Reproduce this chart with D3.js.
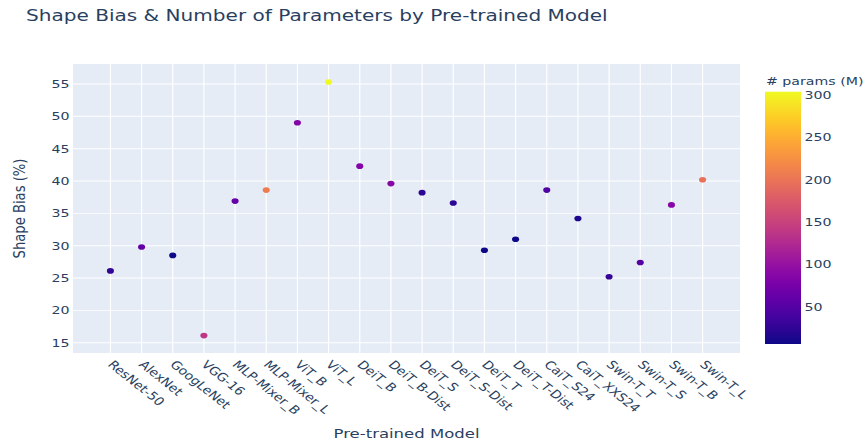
<!DOCTYPE html>
<html>
<head>
<meta charset="utf-8">
<script src="https://cdn.jsdelivr.net/npm/d3@7"></script>
<style>
  html, body { margin: 0; padding: 0; background: #fff; }
  svg { display: block; }
  text { font-family: "DejaVu Sans", Verdana, sans-serif; fill: #2a3f5f; }
</style>
</head>
<body>
<script>
// data
var models = ["ResNet-50", "AlexNet", "GoogLeNet", "VGG-16", "MLP-Mixer_B", "MLP-Mixer_L",
  "ViT_B", "ViT_L", "DeiT_B", "DeiT_B-Dist", "DeiT_S", "DeiT_S-Dist", "DeiT_T", "DeiT_T-Dist",
  "CaiT_S24", "CaiT_XXS24", "Swin-T_T", "Swin-T_S", "Swin-T_B", "Swin-T_L"];
var shapeBias = [26.1, 29.8, 28.5, 16.1, 36.9, 38.6, 49.0, 55.3, 42.3, 39.6,
  38.2, 36.6, 29.3, 31.0, 38.6, 34.2, 25.2, 27.4, 36.3, 40.2];
var params = [25.6, 61, 6.8, 138, 59.9, 208, 86, 304, 86, 87,
  22, 22, 5.7, 5.9, 46.9, 12, 28, 50, 88, 197];
var yTicks = [15, 20, 25, 30, 35, 40, 45, 50, 55];
var cbTicks = [50, 100, 150, 200, 250, 300];

// the reference is stretched sideways, so draw in a virtual box and squash it
var sx = 1.18, sy = 0.94;
var outerWidth = 867, outerHeight = 446;
var W = outerWidth / sx, H = outerHeight / sy;

var plot = { left: 73 / sx, right: 740 / sx, top: 64 / sy, bottom: 353 / sy };

var svg = d3.select("body").append("svg")
  .attr("width", outerWidth)
  .attr("height", outerHeight)
  .attr("viewBox", "0 0 " + W + " " + H)
  .attr("preserveAspectRatio", "none");

var xScale = d3.scaleLinear().domain([-1.2, 20.2]).range([plot.left, plot.right]);
var yScale = d3.scaleLinear().domain([13.41, 58.09]).range([plot.bottom, plot.top]);
var cScale = d3.scaleSequential(d3.interpolatePlasma)
  .domain([d3.min(params), d3.max(params)]);

// plot background
svg.append("rect")
  .attr("x", plot.left).attr("y", plot.top)
  .attr("width", plot.right - plot.left)
  .attr("height", plot.bottom - plot.top)
  .attr("fill", "#e5ecf6");

// grid
svg.append("g").selectAll("line").data(yTicks).enter().append("line")
  .attr("x1", plot.left).attr("x2", plot.right)
  .attr("y1", function (d){ return yScale(d); })
  .attr("y2", function (d){ return yScale(d); })
  .attr("stroke", "#fff").attr("stroke-width", 1);

svg.append("g").selectAll("line").data(models).enter().append("line")
  .attr("x1", function (d, i){ return xScale(i); })
  .attr("x2", function (d, i){ return xScale(i); })
  .attr("y1", plot.top).attr("y2", plot.bottom)
  .attr("stroke", "#fff").attr("stroke-width", 1);

// y axis
var yAxis = d3.axisLeft(yScale).tickValues(yTicks).tickSize(0).tickPadding(3);
var gy = svg.append("g").attr("transform", "translate(" + plot.left + ",0)").call(yAxis);
gy.select(".domain").remove();
gy.selectAll("text").attr("font-size", 12).style("fill", "#2a3f5f")
  .attr("font-family", "DejaVu Sans, Verdana, sans-serif");

// x axis labels, rotated
svg.append("g").selectAll("text").data(models).enter().append("text")
  .attr("transform", function (d, i){
    return "translate(" + xScale(i) + "," + (plot.bottom + 10) + ") rotate(45)";
  })
  .attr("dy", "0.35em")
  .attr("font-size", 12)
  .text(function (d){ return d; });

// points
svg.append("g").selectAll("circle").data(models).enter().append("circle")
  .attr("cx", function (d, i){ return xScale(i); })
  .attr("cy", function (d, i){ return yScale(shapeBias[i]); })
  .attr("r", 3)
  .attr("fill", function (d, i){ return cScale(params[i]); });

// titles
svg.append("text")
  .attr("x", 26 / sx).attr("y", 21 / sy)
  .attr("font-size", 17)
  .text("Shape Bias & Number of Parameters by Pre-trained Model");

svg.append("text")
  .attr("x", (plot.left + plot.right) / 2).attr("y", 438 / sy)
  .attr("text-anchor", "middle")
  .attr("font-size", 14)
  .text("Pre-trained Model");

svg.append("text")
  .attr("transform", "translate(" + (25 / sx) + "," + ((plot.top + plot.bottom) / 2) + ") rotate(-90)")
  .attr("text-anchor", "middle")
  .attr("font-size", 14)
  .text("Shape Bias (%)");

// colorbar
var cb = { left: 765 / sx, right: 801 / sx, top: 91.7 / sy, bottom: 344 / sy };
var cbScale = d3.scaleLinear().domain(cScale.domain()).range([cb.bottom, cb.top]);

var grad = svg.append("defs").append("linearGradient")
  .attr("id", "plasma").attr("x1", 0).attr("y1", 1).attr("x2", 0).attr("y2", 0);
grad.selectAll("stop").data(d3.range(0, 1.0001, 0.05)).enter().append("stop")
  .attr("offset", function (d){ return d; })
  .attr("stop-color", function (d){ return d3.interpolatePlasma(d); });

svg.append("rect")
  .attr("x", cb.left).attr("y", cb.top)
  .attr("width", cb.right - cb.left).attr("height", cb.bottom - cb.top)
  .attr("fill", "url(#plasma)");

var cAxis = d3.axisRight(cbScale).tickValues(cbTicks).tickSize(0).tickPadding(3);
var gc = svg.append("g").attr("transform", "translate(" + cb.right + ",0)").call(cAxis);
gc.select(".domain").remove();
gc.selectAll("text").attr("font-size", 12).style("fill", "#2a3f5f")
  .attr("font-family", "DejaVu Sans, Verdana, sans-serif");

svg.append("text")
  .attr("x", 766 / sx).attr("y", 85 / sy)
  .attr("font-size", 12)
  .text("# params (M)");
</script>
</body>
</html>
